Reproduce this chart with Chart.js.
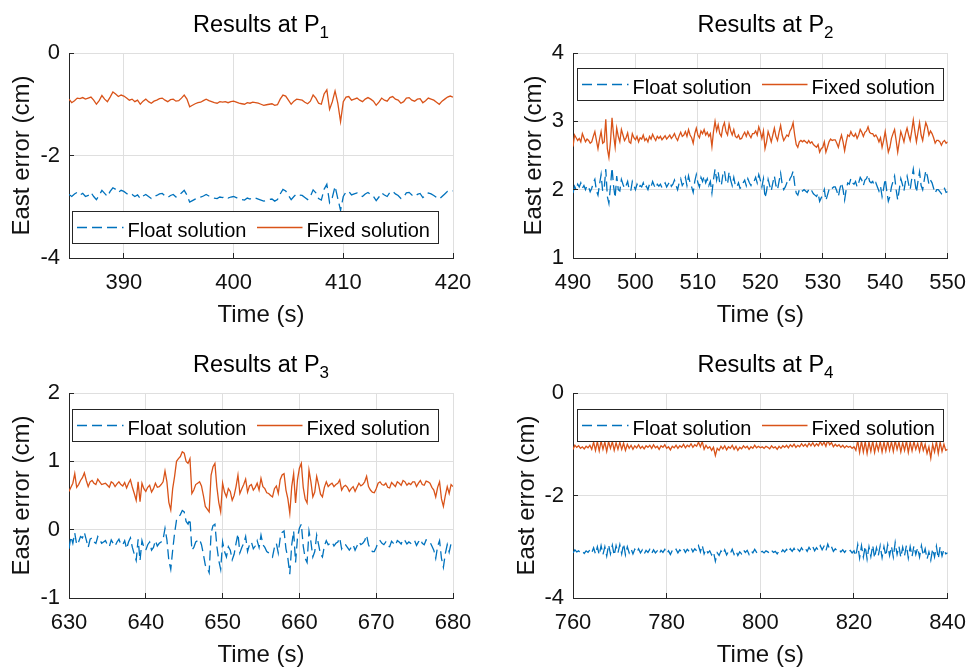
<!DOCTYPE html>
<html><head><meta charset="utf-8">
<script src="https://cdn.jsdelivr.net/npm/chart.js@4.4.1/dist/chart.umd.min.js"></script>
<style>
html,body{margin:0;padding:0;background:#fff;}
#wrap{position:relative;width:978px;height:670px;overflow:hidden;background:#fff;}
canvas{position:absolute;}
.ttl{position:absolute;font-family:'Liberation Sans',Arial,Helvetica,sans-serif;font-size:23.5px;color:#000;text-align:center;line-height:24px;white-space:nowrap;}
.ttl span{font-size:17px;position:relative;top:6px;}
</style></head>
<body><div id="wrap">
<canvas id="c1" width="489" height="335" style="left:0;top:0"></canvas>
<canvas id="c2" width="489" height="335" style="left:489px;top:0"></canvas>
<canvas id="c3" width="489" height="335" style="left:0;top:335px"></canvas>
<canvas id="c4" width="489" height="335" style="left:489px;top:335px"></canvas>
<div class="ttl" style="left:69px;top:12px;width:384px">Results at P<span>1</span></div>
<div class="ttl" style="left:573px;top:12px;width:385px">Results at P<span>2</span></div>
<div class="ttl" style="left:69px;top:352px;width:384px">Results at P<span>3</span></div>
<div class="ttl" style="left:573px;top:352px;width:385px">Results at P<span>4</span></div>
</div>
<script>
// ---------- data (East error, cm) ----------
const seriesNames = ['Float solution', 'Fixed solution'];

// P1: 385 s .. 420 s
const p1Range = [385, 420];
const p1XTicks = [390, 400, 410, 420];
const p1YTicks = [-4, -2, 0];
const p1Fixed = [-0.90,-0.97,-0.93,-0.88,-0.89,-0.87,-0.90,-0.88,-0.86,-0.92,-1.00,-0.93,-0.83,-0.90,-0.95,-0.86,
-0.76,-0.80,-0.85,-0.82,-0.84,-0.88,-0.92,-0.90,-0.95,-0.92,-1.00,-0.94,-0.90,-0.95,-0.98,-0.94,
-0.92,-0.89,-0.88,-0.92,-0.95,-0.91,-0.90,-0.94,-0.93,-0.88,-0.82,-0.90,-1.05,-1.02,-0.99,-0.97,
-0.96,-0.93,-0.90,-0.93,-0.95,-0.97,-0.98,-0.95,-0.96,-0.95,-0.97,-0.95,-0.94,-0.96,-0.98,-0.99,
-1.00,-0.97,-0.98,-0.96,-0.97,-0.98,-1.00,-1.02,-1.01,-1.00,-0.99,-1.02,-1.01,-0.90,-0.82,-0.84,
-0.92,-1.00,-0.94,-0.90,-0.91,-0.92,-0.96,-0.99,-0.94,-0.82,-0.88,-0.98,-1.00,-0.80,-0.72,-1.10,
-0.95,-0.74,-0.98,-1.34,-0.95,-0.86,-0.85,-0.92,-0.90,-0.88,-0.92,-0.95,-0.90,-0.87,-0.90,-0.94,
-1.02,-0.96,-0.88,-0.92,-0.94,-0.87,-0.85,-0.90,-0.92,-0.98,-0.95,-0.88,-0.87,-0.92,-0.94,-0.90,
-0.89,-0.97,-0.93,-0.88,-0.90,-0.92,-0.96,-1.00,-0.94,-0.90,-0.86,-0.84,-0.86];
const p1Float = [-2.76,-2.80,-2.75,-2.72,-2.77,-2.74,-2.80,-2.78,-2.72,-2.80,-2.86,-2.78,-2.68,-2.74,-2.80,-2.70,
-2.63,-2.66,-2.72,-2.68,-2.70,-2.74,-2.78,-2.76,-2.80,-2.77,-2.84,-2.79,-2.76,-2.80,-2.84,-2.80,
-2.78,-2.75,-2.74,-2.79,-2.82,-2.78,-2.76,-2.81,-2.79,-2.73,-2.68,-2.77,-2.91,-2.88,-2.85,-2.82,
-2.81,-2.79,-2.76,-2.79,-2.81,-2.83,-2.84,-2.81,-2.82,-2.80,-2.83,-2.81,-2.80,-2.82,-2.85,-2.86,
-2.87,-2.83,-2.85,-2.82,-2.83,-2.85,-2.87,-2.89,-2.88,-2.86,-2.85,-2.89,-2.86,-2.75,-2.66,-2.69,
-2.78,-2.86,-2.80,-2.75,-2.77,-2.78,-2.82,-2.86,-2.80,-2.67,-2.73,-2.84,-2.87,-2.66,-2.56,-2.92,
-2.82,-2.60,-2.84,-3.07,-2.80,-2.71,-2.70,-2.77,-2.75,-2.73,-2.77,-2.80,-2.75,-2.72,-2.76,-2.80,
-2.88,-2.81,-2.73,-2.77,-2.80,-2.72,-2.70,-2.75,-2.78,-2.84,-2.81,-2.73,-2.72,-2.77,-2.80,-2.76,
-2.74,-2.82,-2.78,-2.73,-2.75,-2.78,-2.82,-2.85,-2.80,-2.75,-2.70,-2.68,-2.69];

// P2: 490 s .. 550 s
const p2Range = [490, 550];
const p2XTicks = [490, 500, 510, 520, 530, 540, 550];
const p2YTicks = [1, 2, 3, 4];
const p2Fixed = [2.63,2.80,2.76,2.72,2.75,2.70,2.82,2.76,2.70,2.74,2.72,2.68,2.70,2.78,2.85,2.72,
2.60,2.74,2.85,2.68,2.70,3.03,2.60,2.47,2.70,3.05,2.80,2.62,2.90,2.78,2.70,2.88,
2.80,2.72,2.76,2.83,2.70,2.68,2.82,2.76,2.73,2.78,2.70,2.76,2.74,2.80,2.72,2.75,
2.70,2.78,2.74,2.81,2.76,2.72,2.78,2.75,2.78,2.73,2.76,2.79,2.74,2.77,2.80,2.75,
2.78,2.82,2.76,2.72,2.79,2.84,2.78,2.80,2.85,2.78,2.88,2.80,2.76,2.68,2.82,2.90,
2.80,2.76,2.86,2.82,2.88,2.80,2.84,2.78,2.82,2.63,2.85,3.00,2.86,2.95,2.82,2.78,
2.92,2.98,2.85,2.80,2.96,2.86,2.80,2.88,2.78,2.76,2.80,2.74,2.75,2.80,2.84,2.78,
2.85,2.80,2.76,2.82,2.82,2.86,2.80,2.92,2.85,2.75,2.86,2.60,2.70,2.85,2.78,2.70,
2.80,2.90,2.78,2.72,2.84,2.94,2.80,2.72,2.76,2.80,2.78,2.86,2.90,2.98,2.80,2.66,
2.62,2.70,2.72,2.70,2.72,2.70,2.68,2.72,2.68,2.70,2.66,2.64,2.62,2.66,2.55,2.60,
2.62,2.70,2.55,2.62,2.70,2.74,2.72,2.73,2.73,2.68,2.62,2.72,2.80,2.70,2.57,2.70,
2.80,2.78,2.85,2.80,2.78,2.82,2.75,2.80,2.88,2.84,2.78,2.84,2.86,2.92,2.84,2.82,
2.82,2.78,2.80,2.76,2.70,2.76,2.62,2.72,2.85,2.70,2.55,2.62,2.75,2.82,2.88,2.72,
2.55,2.70,2.85,2.78,2.70,2.82,2.90,2.80,2.72,2.86,3.02,2.85,2.70,2.84,2.98,2.80,
2.72,2.86,2.98,2.92,2.80,2.86,2.82,2.76,2.68,2.72,2.72,2.70,2.65,2.70,2.72,2.68,2.70];
const p2Float = [1.95,2.05,2.00,2.08,2.04,2.10,2.02,2.06,2.00,2.06,2.04,1.97,2.02,2.10,2.15,1.98,
1.92,2.08,2.22,1.98,2.02,2.30,1.90,1.80,2.05,2.32,2.05,1.88,2.20,2.00,1.98,2.15,
2.08,2.02,2.06,2.12,2.00,1.98,2.12,2.06,2.00,2.08,2.02,2.06,2.04,2.10,2.02,2.05,
2.00,2.08,2.04,2.12,2.06,2.02,2.08,2.05,2.08,2.03,2.07,2.10,2.04,2.08,2.12,2.05,
2.08,2.14,2.06,2.00,2.10,2.16,2.06,2.10,2.18,2.06,2.20,2.10,2.04,1.96,2.12,2.22,
2.10,2.04,2.18,2.12,2.20,2.10,2.16,2.06,2.12,1.95,2.15,2.30,2.14,2.26,2.10,2.06,
2.22,2.28,2.12,2.08,2.26,2.14,2.06,2.18,2.06,2.04,2.10,2.02,2.04,2.10,2.14,2.06,
2.16,2.10,2.06,2.12,2.12,2.18,2.10,2.22,2.14,2.04,2.16,1.88,1.98,2.15,2.06,1.98,
2.10,2.20,2.06,2.00,2.12,2.24,2.08,2.00,2.04,2.10,2.08,2.16,2.20,2.27,2.08,1.95,
1.92,2.00,2.02,1.98,2.00,1.98,1.96,2.00,1.96,1.98,1.94,1.92,1.90,1.95,1.83,1.88,
1.92,2.00,1.84,1.92,2.00,2.04,2.02,2.04,2.04,1.98,1.90,2.02,2.10,2.00,1.85,2.00,
2.10,2.08,2.16,2.10,2.08,2.12,2.04,2.10,2.18,2.14,2.06,2.14,2.16,2.22,2.12,2.10,
2.12,2.06,2.10,2.04,1.98,2.05,1.90,2.02,2.16,1.98,1.83,1.90,2.04,2.12,2.20,2.00,
1.85,2.00,2.16,2.08,1.98,2.12,2.20,2.08,2.00,2.16,2.30,2.12,1.96,2.12,2.26,2.06,
2.00,2.14,2.28,2.20,2.08,2.14,2.10,2.02,1.95,2.00,2.00,1.97,1.94,2.00,2.02,1.96,1.97];

// P3: 630 s .. 680 s
const p3Range = [630, 680];
const p3XTicks = [630, 640, 650, 660, 670, 680];
const p3YTicks = [-1, 0, 1, 2];
const p3Fixed = [0.56,0.62,0.68,0.82,0.62,0.66,0.72,0.76,0.83,0.72,0.63,0.70,0.72,0.68,0.66,0.74,
0.70,0.66,0.67,0.68,0.65,0.62,0.70,0.68,0.63,0.67,0.70,0.66,0.64,0.69,0.61,0.68,
0.73,0.62,0.53,0.43,0.70,0.41,0.68,0.60,0.56,0.62,0.65,0.55,0.60,0.68,0.62,0.63,
0.66,0.70,0.86,0.70,0.40,0.29,0.60,0.78,1.00,1.04,1.07,1.14,1.12,1.00,0.97,1.04,
0.53,0.58,0.66,0.68,0.70,0.64,0.50,0.34,0.30,0.26,0.80,0.92,0.97,0.63,0.40,0.26,
0.68,0.55,0.48,0.60,0.56,0.43,0.50,0.63,0.80,0.53,0.60,0.66,0.74,0.55,0.64,0.66,
0.58,0.62,0.68,0.58,0.75,0.63,0.60,0.54,0.53,0.50,0.48,0.60,0.64,0.53,0.73,0.80,
0.82,0.58,0.45,0.24,0.63,0.82,0.39,0.73,0.90,0.97,0.62,0.45,0.39,0.87,0.70,0.48,
0.55,0.78,0.66,0.52,0.48,0.62,0.70,0.63,0.66,0.68,0.63,0.66,0.68,0.73,0.58,0.63,
0.65,0.62,0.56,0.60,0.63,0.56,0.62,0.68,0.64,0.66,0.70,0.78,0.63,0.58,0.55,0.54,
0.60,0.68,0.70,0.66,0.65,0.68,0.62,0.61,0.69,0.66,0.63,0.70,0.68,0.65,0.72,0.70,
0.65,0.68,0.66,0.70,0.70,0.63,0.68,0.72,0.66,0.65,0.71,0.70,0.68,0.62,0.58,0.48,
0.62,0.70,0.45,0.34,0.50,0.63,0.53,0.66,0.63];
const p3Float = [-0.28,-0.10,-0.20,-0.05,-0.22,-0.18,-0.10,-0.12,-0.04,-0.15,-0.26,-0.14,-0.12,-0.18,-0.20,-0.10,
-0.14,-0.20,-0.18,-0.16,-0.22,-0.25,-0.15,-0.20,-0.24,-0.18,-0.14,-0.22,-0.22,-0.16,-0.28,-0.18,
-0.12,-0.26,-0.36,-0.45,-0.14,-0.45,-0.16,-0.26,-0.30,-0.22,-0.18,-0.30,-0.26,-0.16,-0.24,-0.20,
-0.18,-0.14,0.02,-0.15,-0.45,-0.58,-0.30,-0.05,0.14,0.18,0.22,0.28,0.26,0.12,0.08,0.16,
-0.30,-0.26,-0.18,-0.16,-0.14,-0.22,-0.36,-0.52,-0.56,-0.63,-0.05,0.06,0.08,-0.24,-0.45,-0.58,
-0.18,-0.32,-0.40,-0.25,-0.30,-0.44,-0.36,-0.20,-0.06,-0.34,-0.26,-0.20,-0.10,-0.32,-0.22,-0.18,
-0.28,-0.24,-0.16,-0.26,-0.08,-0.22,-0.26,-0.32,-0.34,-0.36,-0.40,-0.26,-0.20,-0.34,-0.12,-0.04,
-0.02,-0.28,-0.42,-0.65,-0.22,-0.02,-0.48,-0.12,0.02,0.08,-0.24,-0.42,-0.48,-0.02,-0.18,-0.40,
-0.32,-0.08,-0.22,-0.36,-0.40,-0.24,-0.16,-0.22,-0.20,-0.18,-0.24,-0.20,-0.18,-0.12,-0.28,-0.22,
-0.22,-0.26,-0.30,-0.26,-0.22,-0.30,-0.24,-0.18,-0.22,-0.20,-0.16,-0.08,-0.22,-0.28,-0.32,-0.32,
-0.26,-0.18,-0.16,-0.20,-0.22,-0.18,-0.24,-0.25,-0.17,-0.20,-0.23,-0.16,-0.18,-0.21,-0.14,-0.16,
-0.21,-0.18,-0.20,-0.16,-0.16,-0.23,-0.18,-0.14,-0.20,-0.22,-0.15,-0.16,-0.18,-0.24,-0.30,-0.42,
-0.24,-0.16,-0.42,-0.55,-0.35,-0.22,-0.33,-0.20,-0.24];

// P4: 760 s .. 840 s
const p4Range = [760, 840];
const p4XTicks = [760, 780, 800, 820, 840];
const p4YTicks = [-4, -2, 0];
const p4Fixed = [-1.10,-1.02,-1.06,-1.03,-1.08,-1.05,-1.09,-1.04,-1.07,-1.02,
-1.10,-0.96,-1.12,-0.95,-1.13,-0.94,-1.10,-0.96,-1.14,-0.95,
-1.08,-0.95,-1.12,-0.97,-1.10,-0.96,-1.10,-0.98,-1.12,-1.00,
-1.08,-1.02,-1.10,-1.03,-1.07,-1.01,-1.08,-1.04,-1.09,-1.03,
-1.06,-1.02,-1.08,-1.01,-1.07,-1.04,-1.10,-1.03,-1.06,-1.01,
-1.08,-1.05,-1.11,-1.04,-1.07,-1.02,-1.08,-1.03,-1.06,-1.00,
-1.07,-1.02,-1.05,-0.99,-1.06,-1.01,-1.04,-0.96,-1.05,-0.95,
-1.10,-1.02,-1.08,-1.05,-1.12,-1.06,-1.22,-1.08,-1.12,-1.04,
-1.09,-1.03,-1.11,-1.05,-1.08,-1.02,-1.10,-1.04,-1.12,-1.06,
-1.09,-1.03,-1.07,-1.04,-1.10,-1.05,-1.08,-1.02,-1.07,-1.04,
-1.07,-1.05,-1.08,-1.04,-1.06,-1.09,-1.03,-1.07,-1.05,-1.10,
-1.04,-1.08,-1.03,-1.06,-1.02,-1.07,-1.01,-1.05,-1.00,-1.06,
-1.02,-1.05,-0.99,-1.04,-1.00,-1.05,-0.98,-1.03,-0.97,-1.04,
-0.99,-1.03,-0.95,-1.02,-0.96,-1.04,-0.92,-1.01,-0.97,-1.05,
-1.00,-1.04,-1.01,-1.06,-1.02,-1.07,-1.03,-1.06,-1.04,-1.08,
-1.05,-1.12,-0.93,-1.16,-0.94,-1.15,-0.95,-1.18,-0.96,-1.14,
-0.94,-1.16,-0.98,-1.12,-0.95,-1.15,-0.96,-1.13,-0.94,-1.12,
-0.95,-1.14,-0.93,-1.10,-0.96,-1.15,-0.97,-1.12,-0.94,-1.16,
-0.96,-1.13,-0.95,-1.10,-0.98,-1.14,-0.95,-1.12,-1.00,-1.18,
-1.05,-1.27,-1.00,-1.15,-0.95,-1.18,-0.96,-1.14,-1.00,-1.12,-1.10];
const p4Float = [-3.12,-3.06,-3.10,-3.08,-3.12,-3.09,-3.13,-3.08,-3.11,-3.06,
-3.12,-3.02,-3.14,-3.00,-3.16,-2.98,-3.15,-3.00,-3.18,-2.96,
-3.14,-2.97,-3.17,-2.98,-3.12,-2.96,-3.14,-2.94,-3.16,-3.00,
-3.12,-3.04,-3.14,-3.05,-3.11,-3.04,-3.12,-3.06,-3.14,-3.07,
-3.11,-3.05,-3.13,-3.06,-3.12,-3.08,-3.14,-3.07,-3.11,-3.05,
-3.13,-3.08,-3.15,-3.07,-3.10,-3.05,-3.12,-3.06,-3.10,-3.04,
-3.11,-3.05,-3.09,-3.02,-3.10,-3.04,-3.08,-2.98,-3.10,-2.97,
-3.14,-3.05,-3.12,-3.08,-3.16,-3.10,-3.28,-3.12,-3.17,-3.08,
-3.14,-3.06,-3.16,-3.09,-3.13,-3.05,-3.15,-3.08,-3.17,-3.10,
-3.14,-3.06,-3.11,-3.07,-3.15,-3.08,-3.12,-3.05,-3.11,-3.08,
-3.11,-3.09,-3.12,-3.08,-3.10,-3.13,-3.07,-3.11,-3.09,-3.14,
-3.08,-3.12,-3.06,-3.10,-3.05,-3.11,-3.04,-3.09,-3.03,-3.10,
-3.05,-3.09,-3.02,-3.08,-3.03,-3.09,-3.01,-3.07,-3.00,-3.08,
-3.02,-3.07,-2.98,-3.06,-2.99,-3.08,-2.95,-3.05,-3.00,-3.09,
-3.04,-3.08,-3.05,-3.10,-3.06,-3.11,-3.06,-3.10,-3.07,-3.12,
-3.08,-3.18,-2.96,-3.22,-2.98,-3.20,-2.99,-3.24,-3.00,-3.19,
-2.97,-3.22,-3.02,-3.17,-2.98,-3.21,-3.00,-3.18,-2.96,-3.17,
-2.99,-3.20,-2.92,-3.15,-2.99,-3.21,-3.01,-3.17,-2.97,-3.22,
-3.00,-3.19,-2.98,-3.15,-3.02,-3.20,-2.98,-3.17,-3.04,-3.24,
-3.10,-3.26,-3.04,-3.20,-2.99,-3.23,-3.00,-3.18,-3.05,-3.14,-3.12];

// ---------- drawing ----------
const FONT = "'Liberation Sans', Arial, Helvetica, sans-serif";
const INK = '#262626';
Chart.defaults.font.family = FONT;
Chart.defaults.color = INK;

// sample times spread evenly over the recorded interval
function toPoints(range, vals) {
  const dt = (range[1] - range[0]) / (vals.length - 1);
  return vals.map((v, i) => ({x: range[0] + i * dt, y: v}));
}

const ap = (p) => Math.round(p + 0.5) - 0.5;

const innerTicks = {
  id: 'innerTicks',
  afterDraw(chart) {
    const {ctx, chartArea: a, scales: {x, y}} = chart;
    ctx.save();
    ctx.strokeStyle = INK; ctx.lineWidth = 1; ctx.setLineDash([]);
    ctx.beginPath();
    x.ticks.forEach(t => { const px = ap(x.getPixelForValue(t.value)); ctx.moveTo(px, a.bottom); ctx.lineTo(px, a.bottom - 5); });
    y.ticks.forEach(t => { const py = ap(y.getPixelForValue(t.value)); ctx.moveTo(a.left, py); ctx.lineTo(a.left + 5, py); });
    ctx.stroke();
    ctx.restore();
  }
};

const boxLegend = {
  id: 'boxLegend',
  afterDraw(chart, args, opts) {
    const {ctx, chartArea: a} = chart;
    const bw = 366, bh = 32;
    const bx = Math.round(a.left + opts.dx) + 0.5;
    const by = (opts.pos === 'top' ? Math.round(a.top + opts.dy) : Math.round(a.bottom - opts.dy - bh)) + 0.5;
    ctx.save();
    ctx.fillStyle = '#fff';
    ctx.fillRect(bx, by, bw, bh);
    ctx.strokeStyle = INK; ctx.lineWidth = 1; ctx.setLineDash([]);
    ctx.strokeRect(bx, by, bw, bh);
    const ds = chart.data.datasets;
    const ly = by + 16;
    const items = [{s: 4.5, e: 51, tx: 55}, {s: 184.5, e: 230, tx: 234}];
    ds.forEach((d, i) => {
      const it = items[i];
      ctx.strokeStyle = d.borderColor; ctx.lineWidth = d.borderWidth;
      ctx.setLineDash(d.borderDash || []);
      ctx.beginPath(); ctx.moveTo(bx + it.s, ly); ctx.lineTo(bx + it.e, ly); ctx.stroke();
      ctx.setLineDash([]);
      ctx.fillStyle = '#000';
      ctx.font = '20px ' + FONT;
      ctx.textAlign = 'left'; ctx.textBaseline = 'alphabetic';
      ctx.fillText(d.label, bx + it.tx, by + 25);
    });
    ctx.restore();
  }
};

const panels = [
  {id: 'c1', range: p1Range, xTicks: p1XTicks, yTicks: p1YTicks, float: p1Float, fixed: p1Fixed,
   area: {l: 69, t: 53, r: 453, b: 258}, legend: 'bottom', dx: 3.3, dy: 15, yTitleC: 22.5, xTitleC: 315},
  {id: 'c2', range: p2Range, xTicks: p2XTicks, yTicks: p2YTicks, float: p2Float, fixed: p2Fixed,
   area: {l: 84, t: 53, r: 469, b: 258}, legend: 'top', dx: 4, dy: 15, yTitleC: 45, xTitleC: 315},
  {id: 'c3', range: p3Range, xTicks: p3XTicks, yTicks: p3YTicks, float: p3Float, fixed: p3Fixed,
   area: {l: 69, t: 58, r: 453, b: 263}, legend: 'top', dx: 3.3, dy: 15.5, yTitleC: 22.5, xTitleC: 320},
  {id: 'c4', range: p4Range, xTicks: p4XTicks, yTicks: p4YTicks, float: p4Float, fixed: p4Fixed,
   area: {l: 84, t: 58, r: 469, b: 263}, legend: 'top', dx: 4, dy: 15.5, yTitleC: 38, xTitleC: 320}
];

panels.forEach(p => {
  const cv = document.getElementById(p.id);
  const W = cv.width, H = cv.height;
  const titleHalf = 24 * 1.2 / 2;
  new Chart(cv, {
    type: 'line',
    data: {
      datasets: [
        {label: seriesNames[0], data: toPoints(p.range, p.float), borderColor: '#0072BD', borderWidth: 1.3,
         borderDash: [10, 5], pointRadius: 0, tension: 0, fill: false},
        {label: seriesNames[1], data: toPoints(p.range, p.fixed), borderColor: '#D95319', borderWidth: 1.3,
         pointRadius: 0, tension: 0, fill: false}
      ]
    },
    options: {
      responsive: false, animation: false, devicePixelRatio: 1, events: [],
      layout: {padding: {left: 0, top: p.area.t, right: W - p.area.r, bottom: 0}},
      plugins: {legend: {display: false}, tooltip: {enabled: false}, title: {display: false},
                boxLegend: {pos: p.legend, dx: p.dx, dy: p.dy}},
      scales: {
        x: {
          type: 'linear', min: p.range[0], max: p.range[1],
          afterBuildTicks: s => { s.ticks = p.xTicks.map(v => ({value: v})); },
          afterFit: s => { s.height = H - p.area.b; },
          grid: {color: '#dfdfdf', lineWidth: 1, drawTicks: false},
          border: {color: INK, width: 1},
          ticks: {padding: 12, font: {size: 22}, color: '#111', maxRotation: 0, autoSkip: false},
          title: {display: true, text: 'Time (s)', font: {size: 24}, color: '#111',
                  padding: {top: 0, bottom: H - titleHalf - p.xTitleC}}
        },
        y: {
          type: 'linear', min: p.yTicks[0], max: p.yTicks[p.yTicks.length - 1],
          afterBuildTicks: s => { s.ticks = p.yTicks.map(v => ({value: v})); },
          afterFit: s => { s.width = p.area.l; },
          grid: {color: '#dfdfdf', lineWidth: 1, drawTicks: false},
          border: {color: INK, width: 1},
          ticks: {padding: 9, font: {size: 22}, color: '#111', autoSkip: false},
          title: {display: true, text: 'East error (cm)', font: {size: 24}, color: '#111',
                  padding: {top: p.yTitleC - titleHalf, bottom: 0}}
        }
      }
    },
    plugins: [innerTicks, boxLegend]
  });
});
</script>
</body></html>
